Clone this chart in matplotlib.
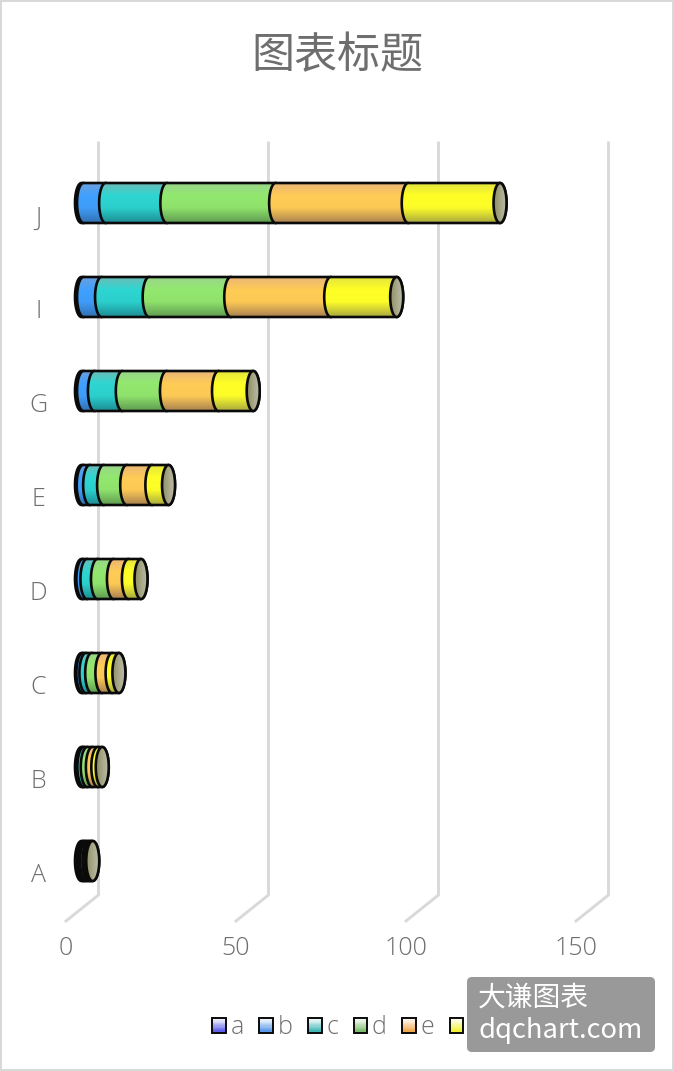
import numpy as np
import matplotlib
matplotlib.use("Agg")
import matplotlib.pyplot as plt
from matplotlib.colors import LinearSegmentedColormap
from matplotlib.legend_handler import HandlerBase
from matplotlib.patches import FancyBboxPatch, Patch, Polygon, Rectangle
from matplotlib.transforms import IdentityTransform, ScaledTranslation

plt.rcParams['font.family'] = ['Noto Sans CJK SC', 'DejaVu Sans']

# ---- data ----
categories = ['A', 'B', 'C', 'D', 'E', 'G', 'I', 'J']
series_names = ['a', 'b', 'c', 'd', 'e', 'f']
a = [0.4, 0.3, 0.4, 0.4, 0.5, 0.6, 0.6, 0.6]
b = [0.5, 0.4, 0.9, 1.2, 1.9, 3.2, 5.3, 6.5]
c = [0.6, 1.0, 1.7, 3.1, 4.1, 8.2, 14.0, 18.0]
d = [0.7, 1.5, 3.0, 4.7, 6.8, 13.0, 24.0, 32.0]
e = [0.6, 1.6, 3.0, 4.4, 7.4, 15.3, 29.4, 39.0]
f = [0.5, 1.3, 2.0, 3.7, 4.9, 10.2, 19.4, 27.0]
series = [a, b, c, d, e, f]
x_ticks = [0, 50, 100, 150]

# ---- style ----
W, H = 674, 1071
PX_PER_UNIT = 3.4
X0_PX = 81.5          # pixel of value 0 on the bar plane
Y0_PX = 861.0         # pixel of category index 0
ROW_PX = 94.0
BAR_H = 40 / ROW_PX
CAP_W = 13 / PX_PER_UNIT
TEXT = '#6e6e6e'
GRID = '#D9D9D9'
OUT = '#0a0a0a'
LATIN = ['Open Sans', 'DejaVu Sans']
gradients = [
    ['#7a7ae0', '#5050ff', '#5050ff', '#3030a8'],
    ['#6aa0dc', '#3fa0ff', '#3f9cf8', '#3070b0'],
    ['#6cbcb8', '#2dd6d2', '#2bcfcc', '#1c8c94'],
    ['#9ad68c', '#92e86e', '#8fe26c', '#5e9a50'],
    ['#eab678', '#ffcc55', '#fcc955', '#a88050'],
    ['#e4e440', '#ffff26', '#fcfc28', '#a8a840'],
]
legend_grad = [
    ['#ffffff', '#5050e8'],
    ['#ffffff', '#4a90e8'],
    ['#ffffff', '#30b0b0'],
    ['#ffffff', '#70b860'],
    ['#ffffff', '#f0a040'],
    ['#ffffff', '#f0f020'],
]
cap_grad = ['#8e8e62', '#a8a888', '#bcbcae']

fig = plt.figure(figsize=(W / 100, H / 100), dpi=100)
fig.patch.set_edgecolor(GRID)
fig.patch.set_linewidth(1.6)

left, right, top, bottom = 60, 674, 130, 921
ax = fig.add_axes([left / W, 1 - bottom / H, (right - left) / W, (bottom - top) / H])
ax.patch.set_alpha(0)
xl = ((left - X0_PX) / PX_PER_UNIT, (right - X0_PX) / PX_PER_UNIT)
yl = ((Y0_PX - bottom) / ROW_PX, (Y0_PX - top) / ROW_PX)
for s in ax.spines.values():
    s.set_visible(False)

# perspective gridlines (back wall + floor)
back_dx = (98.5 - X0_PX) / PX_PER_UNIT
front_dx = (66 - X0_PX) / PX_PER_UNIT
y_top = (Y0_PX - 143) / ROW_PX
y_floor = (Y0_PX - 895) / ROW_PX
y_front = (Y0_PX - 921) / ROW_PX
for v in x_ticks:
    ax.plot([v + back_dx, v + back_dx, v + front_dx], [y_top, y_floor, y_front],
            color=GRID, lw=2.1, zorder=1, clip_on=False, solid_joinstyle='miter')

grad = np.linspace(0, 1, 256).reshape(-1, 1)
t = np.linspace(-np.pi / 2, np.pi / 2, 41)


def gradient_fill(poly, extent, cmap, data, z):
    im = ax.imshow(data, extent=extent, origin='upper', cmap=cmap, aspect='auto',
                   interpolation='bilinear', zorder=z)
    im.set_clip_path(poly)


z = 3.0
for i, cat in enumerate(categories):
    start = 0.0
    for k, vals in enumerate(series):
        end = start + vals[i]
        # left arc at segment start, right arc at segment end
        xs = np.r_[start - CAP_W / 2 * np.cos(t[::-1]), end + CAP_W / 2 * np.cos(t)]
        ys = np.r_[i + BAR_H / 2 * np.sin(t[::-1]), i + BAR_H / 2 * np.sin(t)]
        poly = Polygon(np.c_[xs, ys], closed=True, facecolor='none', edgecolor=OUT,
                       lw=1.9, zorder=z + 0.01, transform=ax.transData)
        ax.add_patch(poly)
        cmap = LinearSegmentedColormap.from_list(
            f'g{k}', [(0, gradients[k][0]), (0.32, gradients[k][1]),
                      (0.62, gradients[k][2]), (1, gradients[k][3])])
        gradient_fill(poly, (start - CAP_W, end + CAP_W, i - BAR_H / 2, i + BAR_H / 2), cmap, grad, z)
        z += 0.02
        start = end
    # end cap
    cth = np.linspace(0, 2 * np.pi, 81)
    cap = Polygon(np.c_[start + CAP_W / 2 * np.cos(cth), i + BAR_H / 2 * np.sin(cth)], closed=True,
                  facecolor='none', edgecolor=OUT, lw=1.9, zorder=z + 0.01)
    ax.add_patch(cap)
    cap_cmap = LinearSegmentedColormap.from_list('cap', cap_grad)
    gradient_fill(cap, (start - CAP_W / 2, start + CAP_W / 2, i - BAR_H / 2, i + BAR_H / 2),
                  cap_cmap, grad.T, z)
    z += 0.02

ax.set_xlim(*xl)
ax.set_ylim(*yl)

# axis labels, offset to the front edge of the 3-D floor
ax.set_xticks(x_ticks, [str(v) for v in x_ticks])
ax.set_yticks(range(len(categories)), categories)
ax.tick_params(axis='both', length=0, labelsize=18, labelcolor=TEXT)
ax.tick_params(axis='x', pad=11)
ax.tick_params(axis='y', pad=15.5)
for lab in ax.get_xticklabels():
    lab.set_family(LATIN)
    lab.set_fontweight('light')
    lab.set_transform(lab.get_transform() + ScaledTranslation(-15.5 / 100, 0, fig.dpi_scale_trans))
for lab in ax.get_yticklabels():
    lab.set_family(LATIN)
    lab.set_fontweight('light')
    lab.set_ha('center')
    lab.set_transform(lab.get_transform() + ScaledTranslation(0, -12 / 100, fig.dpi_scale_trans))


class GradHandler(HandlerBase):
    def __init__(self, cols):
        super().__init__()
        self.cols = cols

    def create_artists(self, legend, orig, xd, yd, width, height, fontsize, trans):
        cm = LinearSegmentedColormap.from_list('l', self.cols)
        out = []
        n = 12
        for j in range(n):
            out.append(Rectangle((-xd, -yd + height * (1 - (j + 1) / n)), width, height / n + 0.2,
                                 facecolor=cm(j / (n - 1)), edgecolor='none', transform=trans))
        out.append(Rectangle((-xd, -yd), width, height, facecolor='none', edgecolor=OUT,
                             lw=1.4, transform=trans))
        return out


handles = [Patch(label=n) for n in series_names]
leg = fig.legend(handles=handles, ncol=6, frameon=False, fontsize=18,
                 handler_map={h: GradHandler(legend_grad[i]) for i, h in enumerate(handles)},
                 handlelength=0.55, handleheight=0.55, handletextpad=0.18, columnspacing=0.62,
                 loc='center left', bbox_to_anchor=(212 / W, 1 - 1028 / H), borderpad=0, borderaxespad=0,
                 labelcolor=TEXT, prop={'family': LATIN, 'weight': 'light', 'size': 18})

# title
fig.text(337.5 / W, 1 - 56 / H, '图表标题', ha='center', va='center', fontsize=31,
         color=TEXT, fontweight='light')

# watermark
fig.add_artist(FancyBboxPatch((470, H - 1049), 182, 69, boxstyle='round,pad=3,rounding_size=5',
                              transform=IdentityTransform(), facecolor='#999999',
                              edgecolor='none', zorder=10))
fig.text(478 / W, 1 - 998 / H, '大谦图表', ha='left', va='center', fontsize=20, color='white', zorder=11)
fig.text(479 / W, 1 - 1031 / H, 'dqchart.com', ha='left', va='center', fontsize=19.7, color='white', zorder=11)

fig.savefig('out.png', dpi=100, facecolor='white', edgecolor=GRID)
